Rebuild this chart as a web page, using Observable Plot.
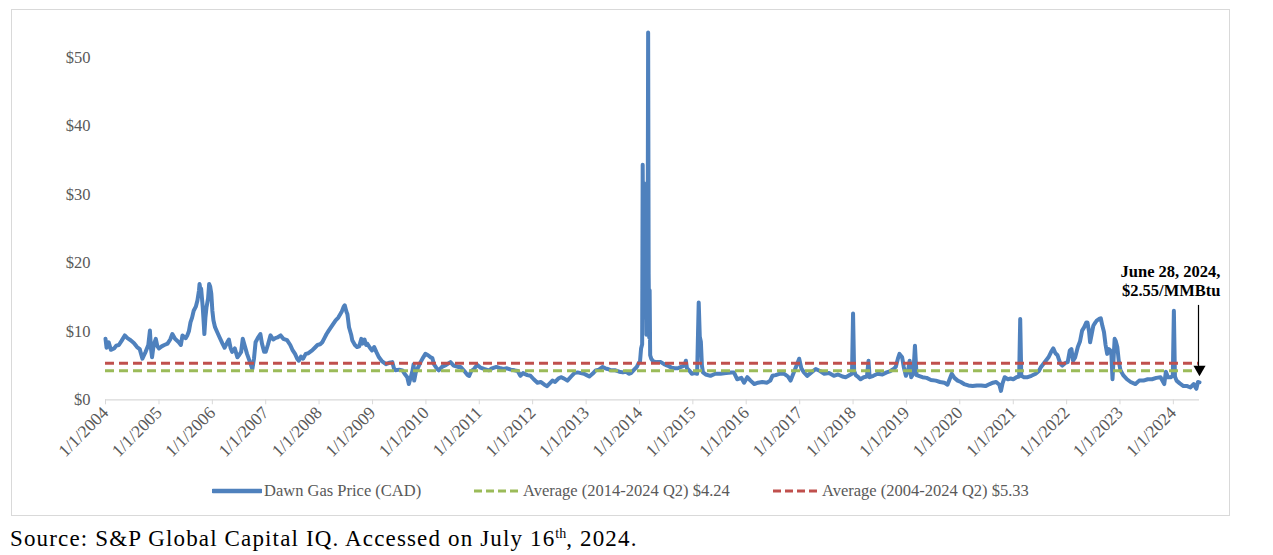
<!DOCTYPE html>
<html>
<head>
<meta charset="utf-8">
<script src="https://cdn.jsdelivr.net/npm/d3@7"></script>
<script src="https://cdn.jsdelivr.net/npm/@observablehq/plot@0.6"></script>
<style>
  html, body { margin: 0; padding: 0; background: #fff; }
  body { width: 1273px; height: 555px; position: relative; overflow: hidden; font-family: "Liberation Serif", "Times New Roman", serif; }
  #frame { position: absolute; left: 11px; top: 9px; width: 1217px; height: 505px; border: 1px solid #d9d9d9; }
  #chart { position: absolute; left: 0; top: 0; }
  .legend-item { position: absolute; top: 481px; display: flex; align-items: center; color: #595959; font-size: 16.5px; white-space: nowrap; }
  .legend-item svg { margin-right: 2px; }
  #caption { position: absolute; left: 10px; top: 526px; font-size: 23px; letter-spacing: 1.15px; color: #000; white-space: nowrap; }
  #caption sup { font-size: 14px; vertical-align: 8px; line-height: 0; letter-spacing: 0; }
</style>
</head>
<body>
<div id="frame"></div>
<div id="chart"></div>
<div class="legend-item" style="left:212px">
  <svg width="50" height="10"><line x1="1" x2="49" y1="5" y2="5" stroke="#4f81bd" stroke-width="4.5" stroke-linecap="round"/></svg>
  <span>Dawn Gas Price (CAD)</span>
</div>
<div class="legend-item" style="left:474px">
  <svg width="47" height="10"><line x1="0" x2="47" y1="5" y2="5" stroke="#9bbb59" stroke-width="3" stroke-dasharray="8,4"/></svg>
  <span>Average (2014-2024 Q2) $4.24</span>
</div>
<div class="legend-item" style="left:773px">
  <svg width="47" height="10"><line x1="0" x2="47" y1="5" y2="5" stroke="#c0504d" stroke-width="3" stroke-dasharray="8,4"/></svg>
  <span>Average (2004-2024 Q2) $5.33</span>
</div>
<div id="caption">Source: S&amp;P Global Capital IQ. Accessed on July 16<sup>th</sup>, 2024.</div>
<script>
// Dawn hub gas price (CAD/MMBtu), sampled as decimal years
const years = [
  2004.00,2004.02,2004.06,2004.10,2004.16,2004.20,2004.25,2004.30,2004.36,2004.41,2004.47,2004.53,2004.59,2004.64,2004.69,2004.72,2004.75,2004.80,2004.83,2004.85,2004.87,2004.90,2004.94,2004.97,
  2005.00,2005.05,2005.10,2005.16,2005.21,2005.25,2005.30,2005.37,2005.41,2005.44,2005.50,2005.53,2005.56,2005.59,2005.62,2005.65,2005.69,2005.72,2005.75,2005.76,2005.78,2005.79,2005.82,2005.84,2005.85,2005.87,2005.89,2005.92,2005.94,2005.96,2005.98,
  2006.00,2006.02,2006.05,2006.09,2006.13,2006.19,2006.23,2006.28,2006.31,2006.34,2006.37,2006.42,2006.47,2006.50,2006.54,2006.57,2006.61,2006.65,2006.70,2006.75,2006.78,2006.81,2006.85,2006.90,2006.93,2006.97,
  2007.00,2007.04,2007.09,2007.14,2007.18,2007.22,2007.28,2007.33,2007.40,2007.46,2007.50,2007.55,2007.59,2007.62,2007.66,2007.70,2007.75,2007.80,2007.87,2007.92,2007.97,
  2008.02,2008.06,2008.10,2008.14,2008.18,2008.24,2008.31,2008.36,2008.42,2008.46,2008.48,2008.51,2008.53,2008.56,2008.60,2008.62,2008.67,2008.71,2008.75,2008.79,2008.81,2008.85,2008.88,2008.90,2008.95,2008.99,
  2009.03,2009.07,2009.12,2009.18,2009.25,2009.31,2009.37,2009.40,2009.43,2009.50,2009.56,2009.60,2009.65,2009.68,2009.72,2009.75,2009.77,2009.78,2009.81,2009.84,2009.90,2009.95,2009.99,
  2010.04,2010.09,2010.12,2010.15,2010.20,2010.24,2010.30,2010.38,2010.46,2010.52,2010.60,2010.65,2010.72,2010.78,2010.81,2010.85,2010.90,2010.96,
  2011.02,2011.09,2011.18,2011.24,2011.32,2011.40,2011.45,2011.52,2011.59,2011.66,2011.72,2011.77,2011.82,2011.90,2011.96,
  2012.02,2012.09,2012.15,2012.22,2012.27,2012.32,2012.37,2012.42,2012.48,2012.53,2012.59,2012.65,2012.72,2012.78,2012.84,2012.90,2012.96,
  2013.01,2013.06,2013.12,2013.18,2013.24,2013.31,2013.36,2013.40,2013.47,2013.55,2013.62,2013.69,2013.75,2013.80,2013.84,2013.90,2013.95,2013.98,
  2014.01,2014.03,2014.05,2014.06,2014.07,2014.085,2014.10,2014.115,2014.13,2014.15,2014.162,2014.172,2014.182,2014.19,2014.20,2014.22,2014.26,2014.32,2014.40,2014.46,2014.52,2014.60,2014.66,2014.72,2014.78,2014.84,2014.87,2014.89,2014.93,2014.98,
  2015.03,2015.08,2015.11,2015.13,2015.15,2015.17,2015.19,2015.24,2015.33,2015.42,2015.52,2015.62,2015.72,2015.77,2015.83,2015.91,2015.96,
  2016.02,2016.08,2016.15,2016.22,2016.30,2016.39,2016.45,2016.49,2016.55,2016.62,2016.71,2016.78,2016.83,2016.88,2016.93,2016.99,
  2017.03,2017.08,2017.14,2017.22,2017.30,2017.38,2017.46,2017.55,2017.64,2017.72,2017.80,2017.86,2017.93,2017.98,
  2018.00,2018.02,2018.05,2018.10,2018.14,2018.20,2018.26,2018.29,2018.31,2018.38,2018.46,2018.55,2018.63,2018.70,2018.76,2018.80,2018.84,2018.87,2018.90,2018.92,2018.95,2018.99,
  2019.03,2019.06,2019.09,2019.13,2019.16,2019.19,2019.23,2019.30,2019.38,2019.46,2019.55,2019.63,2019.71,2019.77,2019.81,2019.85,2019.90,2019.96,
  2020.02,2020.08,2020.16,2020.24,2020.32,2020.40,2020.48,2020.56,2020.62,2020.68,2020.74,2020.77,2020.80,2020.84,2020.90,2020.95,
  2021.00,2021.06,2021.11,2021.13,2021.15,2021.20,2021.27,2021.34,2021.42,2021.48,2021.52,2021.57,2021.61,2021.66,2021.71,2021.75,2021.79,2021.83,2021.88,2021.92,2021.98,
  2022.02,2022.06,2022.09,2022.12,2022.16,2022.21,2022.25,2022.29,2022.33,2022.37,2022.39,2022.42,2022.44,2022.47,2022.50,2022.54,2022.57,2022.61,2022.64,2022.67,2022.70,2022.73,2022.76,2022.79,2022.82,2022.84,2022.86,2022.88,2022.90,2022.92,2022.95,2022.98,
  2023.01,2023.06,2023.13,2023.20,2023.29,2023.36,2023.44,2023.52,2023.60,2023.68,2023.76,2023.83,2023.86,2023.90,2023.95,2023.99,
  2024.01,2024.03,2024.06,2024.12,2024.19,2024.26,2024.32,2024.38,2024.43,2024.46,2024.489
];
const prices = [
  8.9,7.6,8.4,7.3,7.5,7.9,8.0,8.6,9.4,9.0,8.7,8.3,7.7,7.4,6.0,6.5,7.0,8.0,10.1,7.5,6.2,8.0,8.9,7.8,
  7.5,7.8,8.0,8.2,8.8,9.6,8.9,8.4,8.0,9.4,9.0,9.4,10.0,11.3,12.0,13.0,13.6,14.5,16.0,16.9,15.8,16.2,13.5,11.0,9.6,12.0,13.5,14.8,16.9,16.5,15.5,
  13.0,11.6,10.6,9.9,9.2,8.2,7.6,8.4,8.8,7.6,7.0,7.5,6.2,6.5,7.0,8.9,7.8,6.7,5.6,4.5,6.0,8.4,9.0,9.6,8.2,7.0,
  7.0,8.0,9.4,8.8,9.0,9.1,9.4,8.9,8.7,8.0,7.3,6.7,6.0,5.7,6.3,6.0,6.7,6.8,7.2,7.6,8.0,
  8.1,8.4,9.0,9.6,10.1,10.8,11.6,12.0,12.8,13.6,13.8,12.9,12.5,10.6,9.5,8.7,8.0,7.7,7.8,8.9,8.2,8.8,8.0,8.2,7.6,7.2,
  7.7,7.0,6.2,5.6,5.2,5.4,5.5,4.6,4.3,4.4,4.3,3.8,3.3,2.3,3.4,4.3,5.2,2.8,4.0,4.5,5.5,6.2,6.7,
  6.5,6.2,6.1,5.2,4.6,4.3,4.8,5.1,5.5,5.0,4.8,4.8,4.2,3.6,3.5,4.2,4.5,5.1,
  4.7,4.5,4.3,4.6,4.8,4.6,4.5,4.6,4.4,4.3,4.2,3.5,3.9,3.6,3.5,
  3.0,2.5,2.6,2.2,2.0,2.4,2.8,2.6,3.1,3.3,3.1,2.8,3.4,3.9,4.0,3.9,3.8,
  3.6,3.4,3.8,4.3,4.4,4.8,4.6,4.5,4.3,4.3,4.1,4.0,4.1,3.8,3.9,4.4,4.8,5.3,
  5.6,7.5,8.1,34.3,20.0,31.6,12.0,24.0,9.5,11.0,53.6,18.4,9.1,16.0,6.5,6.0,5.6,5.5,5.5,5.2,5.0,4.7,4.6,4.6,4.8,5.0,5.7,4.6,4.3,3.8,
  3.9,3.8,14.2,9.2,8.5,5.0,4.0,3.7,3.5,3.8,3.8,3.9,4.0,4.0,3.0,3.2,2.5,
  3.3,2.8,2.3,2.5,2.6,2.5,2.8,3.5,3.6,3.8,3.8,3.4,2.8,3.8,4.8,6.0,
  4.6,4.0,3.5,4.0,4.5,4.2,3.8,3.9,3.5,3.7,3.4,3.3,3.6,3.8,
  12.6,4.2,3.6,3.3,3.0,3.3,3.4,5.7,3.3,3.5,3.8,3.7,4.0,4.2,4.5,4.8,6.0,6.7,6.4,6.2,4.8,3.5,
  4.2,5.7,3.3,3.8,7.9,3.6,3.5,3.3,3.2,2.9,2.8,2.6,2.5,2.2,3.0,3.8,3.2,2.8,
  2.6,2.3,2.1,2.0,2.1,2.1,2.0,2.3,2.5,2.6,2.2,1.3,2.4,3.3,3.0,3.1,
  3.0,3.3,3.4,11.8,3.5,3.3,3.3,3.5,3.8,4.2,4.8,5.3,5.7,6.2,7.0,7.5,6.8,6.5,5.3,5.0,5.4,
  5.5,7.2,7.4,5.7,6.2,7.7,8.5,10.1,10.6,11.3,11.3,10.0,8.4,9.6,10.8,11.3,11.6,11.8,11.9,10.8,9.9,8.0,6.7,7.4,7.2,6.5,3.0,6.0,8.9,8.6,7.7,5.5,
  4.3,3.6,3.0,2.6,2.3,2.8,2.8,3.0,3.0,3.2,3.3,2.3,4.1,3.3,3.3,3.5,
  13.0,3.4,2.8,2.4,2.0,2.0,1.8,2.3,1.6,2.6,2.55
];

// Reference averages
const avg2014 = 4.24;
const avg2004 = 5.33;

// Axis ticks
const yTicks = [0, 10, 20, 30, 40, 50];
const tickYears = d3.range(2004, 2025);

// Callout for the last observation
const calloutText = "June 28, 2024,\n$2.55/MMBtu";

function toDate(t) {
  const y = Math.floor(t);
  const a = Date.UTC(y, 0, 1), b = Date.UTC(y + 1, 0, 1);
  return new Date(a + (t - y) * (b - a));
}

const series = years.map((t, i) => ({date: toDate(t), price: prices[i]}));
const last = series[series.length - 1];

const chart = Plot.plot({
  width: 1273,
  height: 515,
  marginLeft: 105,
  marginRight: 74,
  marginTop: 22.5,
  marginBottom: 115.7,
  style: {background: "transparent", fontFamily: "'Liberation Serif', 'Times New Roman', serif", fontSize: "16px"},
  x: {type: "utc", domain: [toDate(2004), last.date]},
  y: {domain: [0, 55]},
  marks: [
    Plot.axisY({ticks: yTicks, tickFormat: d => `$${d}`, tickSize: 0, tickPadding: 15, fill: "#595959", fontSize: 16.5, label: null}),
    Plot.ruleY([0], {stroke: "#d9d9d9", strokeWidth: 1.3}),
    Plot.axisX({ticks: tickYears.map(y => toDate(y)), tickFormat: d => `1/1/${d.getUTCFullYear()}`, tickRotate: -45, tickSize: 5, tickPadding: 5, stroke: "#d9d9d9", fill: "#595959", fontSize: 17.5, label: null}),
    Plot.line(series, {x: "date", y: "price", stroke: "#4f81bd", strokeWidth: 4, strokeLinejoin: "round", strokeLinecap: "round"}),
    Plot.ruleY([avg2014], {stroke: "#9bbb59", strokeWidth: 3, strokeDasharray: "9,5"}),
    Plot.ruleY([avg2004], {stroke: "#c0504d", strokeWidth: 3, strokeDasharray: "9,5"}),
    Plot.link([last], {x1: "date", x2: "date", y1: d => d.price + 11.3, y2: d => d.price + 1.5, stroke: "black", strokeWidth: 1.2, dx: -1}),
    Plot.dot([last], {x: "date", y: d => d.price + 1.9, symbol: "triangle", r: 4.5, rotate: 180, fill: "black", stroke: null}),
    Plot.text([last], {x: "date", y: d => d.price + 14.9, text: () => calloutText, textAnchor: "end", dx: 21, fontWeight: "bold", fontSize: 16.5, fill: "black", lineHeight: 1.15})
  ]
});
document.getElementById("chart").appendChild(chart);
</script>
</body>
</html>
